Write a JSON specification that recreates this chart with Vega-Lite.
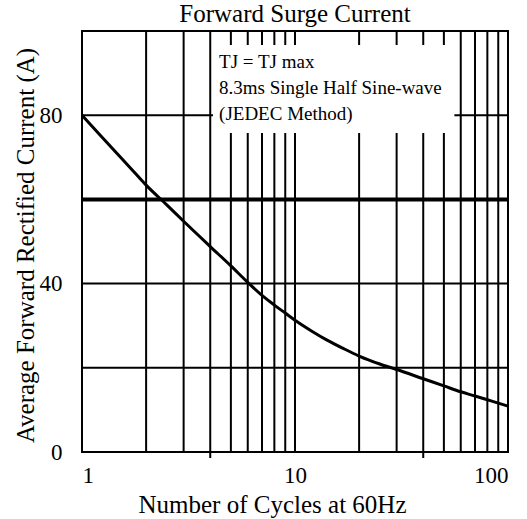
{
  "$schema": "https://vega.github.io/schema/vega-lite/v6.json",
  "width": 426,
  "height": 421,
  "autosize": {"type": "none"},
  "padding": {"left": 82, "top": 31, "right": 19, "bottom": 67},
  "background": "white",
  "title": {
    "text": "Forward Surge Current",
    "font": "Liberation Serif",
    "fontSize": 25,
    "fontWeight": "normal",
    "color": "black",
    "anchor": "middle",
    "offset": 3
  },
  "config": {
    "view": {"stroke": "black", "strokeWidth": 2},
    "axis": {
      "labelFont": "Liberation Serif",
      "titleFont": "Liberation Serif",
      "labelColor": "black",
      "titleColor": "black",
      "titleFontWeight": "normal",
      "grid": false,
      "domain": false,
      "ticks": false,
      "tickSize": 0
    }
  },
  "datasets": {
    "curve": [
      {"x": 1, "y": 80},
      {"x": 1.2, "y": 75.6},
      {"x": 1.4, "y": 71.9},
      {"x": 1.7, "y": 67.3},
      {"x": 2, "y": 63.4},
      {"x": 2.5, "y": 58.7},
      {"x": 3, "y": 54.8},
      {"x": 4, "y": 48.8},
      {"x": 5, "y": 44.2},
      {"x": 6, "y": 40.3},
      {"x": 7, "y": 37.2},
      {"x": 8, "y": 34.9},
      {"x": 9, "y": 33.0},
      {"x": 10, "y": 31.3},
      {"x": 12, "y": 28.7},
      {"x": 14, "y": 26.7},
      {"x": 17, "y": 24.5},
      {"x": 20, "y": 22.8},
      {"x": 25, "y": 20.9},
      {"x": 30, "y": 19.6},
      {"x": 40, "y": 17.4},
      {"x": 50, "y": 15.7},
      {"x": 60, "y": 14.3},
      {"x": 70, "y": 13.3},
      {"x": 80, "y": 12.4},
      {"x": 90, "y": 11.6},
      {"x": 100, "y": 10.9}
    ],
    "vgrid": [
      {"x": 2}, {"x": 3}, {"x": 4}, {"x": 5}, {"x": 6}, {"x": 7}, {"x": 8}, {"x": 9},
      {"x": 10}, {"x": 20}, {"x": 30}, {"x": 40}, {"x": 50}, {"x": 60}, {"x": 70}, {"x": 80}, {"x": 90}
    ],
    "ticks": [{"x": 4}, {"x": 40}],
    "hgrid": [{"y": 20}, {"y": 40}, {"y": 80}],
    "hbold": [{"y": 60}],
    "box": [{"x": 4.12, "x2": 56, "y": 75.8, "y2": 96.7}],
    "notes": [
      {"line": "TJ = TJ max", "x": 4.4, "y": 92.6},
      {"line": "8.3ms Single Half Sine-wave", "x": 4.4, "y": 86.4},
      {"line": "(JEDEC Method)", "x": 4.4, "y": 80.2}
    ]
  },
  "layer": [
    {
      "data": {"name": "vgrid"},
      "mark": {"type": "rule", "color": "black", "strokeWidth": 2},
      "encoding": {
        "x": {
          "field": "x",
          "type": "quantitative",
          "title": "Number of Cycles at 60Hz",
          "scale": {"type": "log", "domain": [1, 100], "nice": false},
          "axis": {"values": [1, 10, 100], "format": "d", "labelFontSize": 23, "labelPadding": 12, "labelFlush": true, "titleFontSize": 25, "titleX": 190, "titleY": 60, "titleBaseline": "alphabetic"}
        }
      }
    },
    {
      "data": {"name": "ticks"},
      "mark": {"type": "rule", "color": "black", "strokeWidth": 2, "y2Offset": 6},
      "encoding": {
        "x": {
          "field": "x",
          "type": "quantitative",
          "title": "Number of Cycles at 60Hz",
          "scale": {"type": "log", "domain": [1, 100], "nice": false},
          "axis": {"values": [1, 10, 100], "format": "d", "labelFontSize": 23, "labelPadding": 12, "labelFlush": true, "titleFontSize": 25, "titleX": 190, "titleY": 60, "titleBaseline": "alphabetic"}
        },
        "y": {
          "datum": 0,
          "type": "quantitative",
          "title": "Average Forward Rectified Current (A)",
          "scale": {"domain": [0, 100], "nice": false},
          "axis": {"values": [0, 40, 80], "labelFontSize": 23, "labelPadding": 20, "titleFontSize": 25, "titleX": -49, "titleY": 214, "titleBaseline": "alphabetic"}
        },
        "y2": {"datum": 0}
      }
    },
    {
      "data": {"name": "hgrid"},
      "mark": {"type": "rule", "color": "black", "strokeWidth": 2},
      "encoding": {
        "y": {
          "field": "y",
          "type": "quantitative",
          "title": "Average Forward Rectified Current (A)",
          "scale": {"domain": [0, 100], "nice": false},
          "axis": {"values": [0, 40, 80], "labelFontSize": 23, "labelPadding": 20, "titleFontSize": 25, "titleX": -49, "titleY": 214, "titleBaseline": "alphabetic"}
        }
      }
    },
    {
      "data": {"name": "hbold"},
      "mark": {"type": "rule", "color": "black", "strokeWidth": 4},
      "encoding": {
        "y": {
          "field": "y",
          "type": "quantitative",
          "title": "Average Forward Rectified Current (A)",
          "scale": {"domain": [0, 100], "nice": false},
          "axis": {"values": [0, 40, 80], "labelFontSize": 23, "labelPadding": 20, "titleFontSize": 25, "titleX": -49, "titleY": 214, "titleBaseline": "alphabetic"}
        }
      }
    },
    {
      "data": {"name": "box"},
      "mark": {"type": "rect", "fill": "white"},
      "encoding": {
        "x": {
          "field": "x",
          "type": "quantitative",
          "title": "Number of Cycles at 60Hz",
          "scale": {"type": "log", "domain": [1, 100], "nice": false},
          "axis": {"values": [1, 10, 100], "format": "d", "labelFontSize": 23, "labelPadding": 12, "labelFlush": true, "titleFontSize": 25, "titleX": 190, "titleY": 60, "titleBaseline": "alphabetic"}
        },
        "x2": {"field": "x2"},
        "y": {
          "field": "y",
          "type": "quantitative",
          "title": "Average Forward Rectified Current (A)",
          "scale": {"domain": [0, 100], "nice": false},
          "axis": {"values": [0, 40, 80], "labelFontSize": 23, "labelPadding": 20, "titleFontSize": 25, "titleX": -49, "titleY": 214, "titleBaseline": "alphabetic"}
        },
        "y2": {"field": "y2"}
      }
    },
    {
      "data": {"name": "notes"},
      "mark": {"type": "text", "font": "Liberation Serif", "fontSize": 19, "color": "black", "align": "left", "baseline": "middle"},
      "encoding": {
        "x": {
          "field": "x",
          "type": "quantitative",
          "title": "Number of Cycles at 60Hz",
          "scale": {"type": "log", "domain": [1, 100], "nice": false},
          "axis": {"values": [1, 10, 100], "format": "d", "labelFontSize": 23, "labelPadding": 12, "labelFlush": true, "titleFontSize": 25, "titleX": 190, "titleY": 60, "titleBaseline": "alphabetic"}
        },
        "y": {
          "field": "y",
          "type": "quantitative",
          "title": "Average Forward Rectified Current (A)",
          "scale": {"domain": [0, 100], "nice": false},
          "axis": {"values": [0, 40, 80], "labelFontSize": 23, "labelPadding": 20, "titleFontSize": 25, "titleX": -49, "titleY": 214, "titleBaseline": "alphabetic"}
        },
        "text": {"field": "line"}
      }
    },
    {
      "data": {"name": "curve"},
      "mark": {"type": "line", "color": "black", "strokeWidth": 3, "interpolate": "monotone"},
      "encoding": {
        "x": {
          "field": "x",
          "type": "quantitative",
          "title": "Number of Cycles at 60Hz",
          "scale": {"type": "log", "domain": [1, 100], "nice": false},
          "axis": {"values": [1, 10, 100], "format": "d", "labelFontSize": 23, "labelPadding": 12, "labelFlush": true, "titleFontSize": 25, "titleX": 190, "titleY": 60, "titleBaseline": "alphabetic"}
        },
        "y": {
          "field": "y",
          "type": "quantitative",
          "title": "Average Forward Rectified Current (A)",
          "scale": {"domain": [0, 100], "nice": false},
          "axis": {"values": [0, 40, 80], "labelFontSize": 23, "labelPadding": 20, "titleFontSize": 25, "titleX": -49, "titleY": 214, "titleBaseline": "alphabetic"}
        }
      }
    }
  ]
}
